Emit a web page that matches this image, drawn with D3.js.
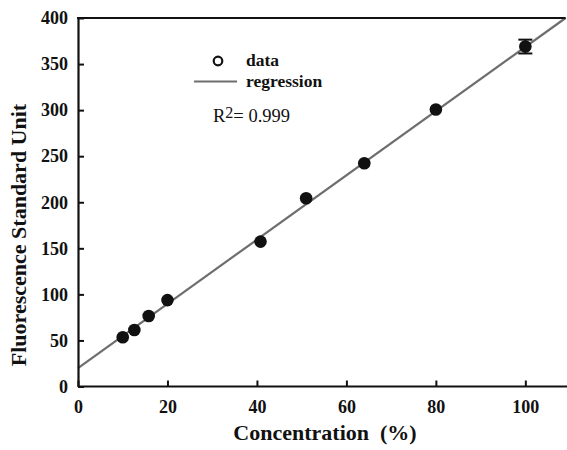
<!DOCTYPE html>
<html><head><meta charset="utf-8">
<script src="https://cdn.jsdelivr.net/npm/d3@7"></script>
<style>body{margin:0;background:#fff}svg{display:block}text{font-family:'Liberation Serif','Times New Roman',serif}</style>
</head><body>
<script>
const concentration = [10, 12.6, 15.8, 20, 40.8, 51, 64, 80, 100];
const fluorescence = [53.5, 61.3, 76.5, 93.8, 157.3, 204.3, 242.3, 300.6, 369];
const errors = [0, 0, 0, 0, 0, 0, 0, 0, 7.5];
const regressionX = [0, 109];
const regressionY = [20, 400];
const xTicks = [0, 20, 40, 60, 80, 100];
const yTicks = [0, 50, 100, 150, 200, 250, 300, 350, 400];

const W = 567, H = 450;
const svg = d3.select("body").append("svg").attr("width", W).attr("height", H);
const x = d3.scaleLinear().domain([0, 109]).range([78, 565.6]);
const y = d3.scaleLinear().domain([0, 400]).range([386.5, 18]);
const serif = "'Liberation Serif','Times New Roman',serif";

// regression line
svg.append("line")
  .attr("x1", x(regressionX[0])).attr("y1", y(regressionY[0]))
  .attr("x2", x(regressionX[1])).attr("y2", y(regressionY[1]))
  .attr("stroke", "#6e6e6e").attr("stroke-width", 2.2);

// axes
const xAxis = d3.axisBottom(x).tickValues(xTicks).tickSizeInner(-6).tickSizeOuter(0).tickPadding(14).tickFormat(d3.format("d"));
const gx = svg.append("g").attr("transform", `translate(0,${y(0)})`).call(xAxis);
gx.select(".domain").attr("d", `M78,0H567`);
const yAxis = d3.axisLeft(y).tickValues(yTicks).tickSizeInner(-6).tickSizeOuter(0).tickPadding(10).tickFormat(d3.format("d"));
const gy = svg.append("g").attr("transform", `translate(${x(0)},0)`).call(yAxis);
[gx, gy].forEach(g => {
  g.attr("font-family", null);
  g.selectAll(".domain").attr("stroke", "#111").attr("stroke-width", 2.2);
  g.selectAll(".tick line").attr("stroke", "#111").attr("stroke-width", 2);
  g.selectAll(".tick text").style("font-family", serif).style("font-weight", "bold").style("font-size", "18px").attr("fill", "#111");
});
// top border
svg.append("line").attr("x1", x(0) - 1).attr("x2", x(109)).attr("y1", y(400)).attr("y2", y(400))
  .attr("stroke", "#111").attr("stroke-width", 2.2);

// error bars
const eb = svg.append("g").attr("stroke", "#111").attr("stroke-width", 2);
concentration.forEach((c, i) => {
  if (!errors[i]) return;
  const cx = x(c), y1 = y(fluorescence[i] + errors[i]), y2 = y(fluorescence[i] - errors[i]);
  eb.append("line").attr("x1", cx).attr("x2", cx).attr("y1", y1).attr("y2", y2);
  eb.append("line").attr("x1", cx - 7).attr("x2", cx + 7).attr("y1", y1).attr("y2", y1);
  eb.append("line").attr("x1", cx - 7).attr("x2", cx + 7).attr("y1", y2).attr("y2", y2);
});

// points
svg.append("g").selectAll("circle").data(concentration).join("circle")
  .attr("cx", d => x(d)).attr("cy", (d, i) => y(fluorescence[i])).attr("r", 6.3).attr("fill", "#111");

// legend
svg.append("circle").attr("cx", 218).attr("cy", 61).attr("r", 4.3).attr("fill", "none").attr("stroke", "#111").attr("stroke-width", 2.2);
svg.append("text").attr("x", 246).attr("y", 66).text("data")
  .style("font-weight", "bold").style("font-size", "17.5px").attr("fill", "#111");
svg.append("line").attr("x1", 194).attr("x2", 237).attr("y1", 81.5).attr("y2", 81.5).attr("stroke", "#6e6e6e").attr("stroke-width", 2.2);
svg.append("text").attr("x", 246).attr("y", 86.5).text("regression")
  .style("font-weight", "bold").style("font-size", "17.5px").attr("fill", "#111");
const r2 = svg.append("text").attr("x", 213).attr("y", 122)
  .style("font-size", "18.5px").attr("fill", "#111");
r2.append("tspan").text("R");
r2.append("tspan").attr("dy", -4).style("font-size", "16px").text("2");
r2.append("tspan").attr("dy", 4).text("= 0.999");

// axis titles
svg.append("text").attr("x", 325).attr("y", 440).attr("text-anchor", "middle")
  .style("font-weight", "bold").style("font-size", "22px").attr("fill", "#111")
  .style("white-space", "pre").text("Concentration  (%)");
svg.append("text").attr("transform", "translate(26,235) rotate(-90)").attr("text-anchor", "middle")
  .style("font-weight", "bold").style("font-size", "22px").attr("fill", "#111")
  .text("Fluorescence Standard Unit");
</script>
</body></html>
